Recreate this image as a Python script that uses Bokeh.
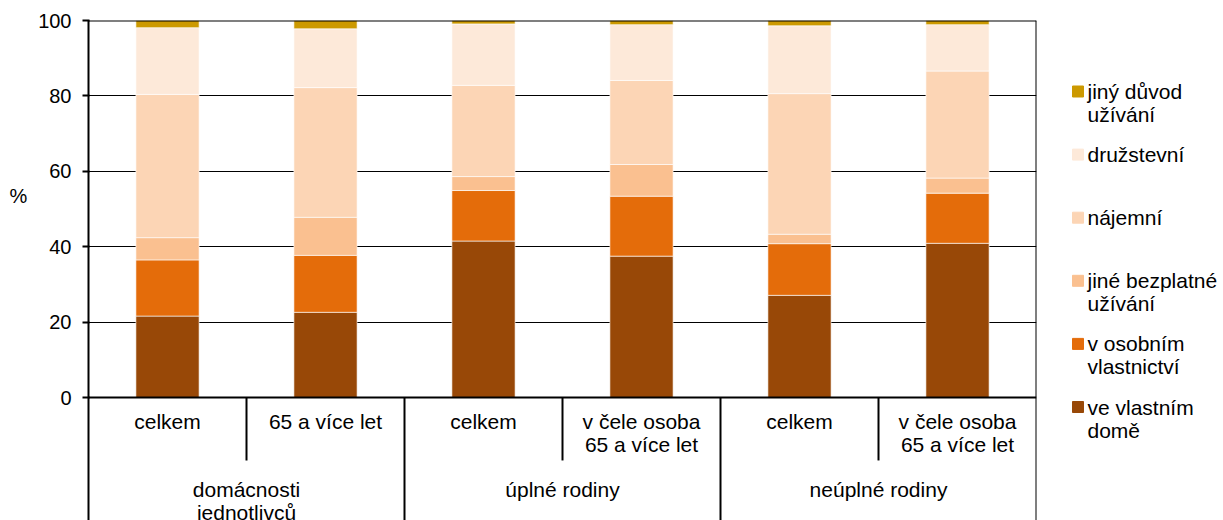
from bokeh.plotting import figure
from bokeh.models import Range1d, FixedTicker, Span, ColumnDataSource
from bokeh.layouts import row
from bokeh.embed import file_html
from bokeh.resources import INLINE
from bokeh.core.properties import value

# ---------------- data ----------------
sub_labels = ["celkem", "65 a více let", "celkem", "v čele osoba\n65 a více let",
              "celkem", "v čele osoba\n65 a více let"]
group_labels = ["domácnosti\njednotlivců", "úplné rodiny", "neúplné rodiny"]

series_keys = ["vlastni_dum", "osobni", "jine_bezplatne", "najemni", "druzstevni", "jiny_duvod"]
series_names = ["ve vlastním\ndomě", "v osobním\nvlastnictví", "jiné bezplatné\nužívání",
                "nájemní", "družstevní", "jiný důvod\nužívání"]
vlastni_dum = [21.6, 22.6, 41.5, 37.5, 27.1, 40.9]
osobni = [14.9, 15.1, 13.4, 15.9, 13.7, 13.3]
jine_bezplatne = [5.9, 10.1, 3.7, 8.4, 2.5, 4.0]
najemni = [38.0, 34.4, 24.2, 22.3, 37.3, 28.4]
druzstevni = [17.7, 15.6, 16.3, 14.8, 18.0, 12.3]
jiny_duvod = [1.9, 2.2, 0.9, 1.1, 1.4, 1.1]
colors = ["#984807", "#E46C0A", "#FAC090", "#FCD5B5", "#FDE9D9", "#CC9900"]
y_ticks = [0, 20, 40, 60, 80, 100]
y_unit = "%"

# ---------------- styling / layout constants ----------------
FONT = value("Liberation Sans")
FS = "21px"
TICK_FS = "20px"
PX_PER_UNIT = 3.77
FRAME_TOP = 20
H = 520
FRAME_H = H - FRAME_TOP
Y_MIN = 100 - FRAME_H / PX_PER_UNIT
LINE_STEP = 23 / PX_PER_UNIT
SUB_Y0 = -6.4
GROUP_Y0 = -24.5
SHORT_DIV = -16.7

n = len(sub_labels)
xs = [i + 0.5 for i in range(n)]
src = ColumnDataSource(dict(x=xs, vlastni_dum=vlastni_dum, osobni=osobni,
                            jine_bezplatne=jine_bezplatne, najemni=najemni,
                            druzstevni=druzstevni, jiny_duvod=jiny_duvod))

# ---------------- "%" panel (frames are aligned in the row: top at FRAME_TOP) ----------------
pf = figure(width=30, height=H, x_range=Range1d(0, 30), y_range=Range1d(H, FRAME_TOP),
            x_axis_location=None, y_axis_location=None, output_backend="svg",
            toolbar_location=None, min_border=0, min_border_top=FRAME_TOP, title=None)
pf.outline_line_color = None
pf.grid.visible = False
pf.text(x=[18], y=[195], text=[y_unit], text_font=FONT, text_font_size=TICK_FS,
        text_align="center", text_baseline="middle", text_color="black")

# ---------------- main chart ----------------
p = figure(width=1018, height=H, x_range=Range1d(0, n), y_range=Range1d(Y_MIN, 100),
           x_axis_location=None, output_backend="svg", toolbar_location=None, title=None,
           min_border_left=58, min_border_right=12, min_border_top=FRAME_TOP, min_border_bottom=0)
p.outline_line_color = None
p.xgrid.visible = False
p.ygrid.ticker = FixedTicker(ticks=y_ticks[1:-1])
p.ygrid.grid_line_color = "black"
p.ygrid.grid_line_width = 1

ax = p.yaxis[0]
ax.ticker = FixedTicker(ticks=y_ticks)
ax.minor_tick_line_color = None
ax.major_tick_out = 6
ax.major_tick_in = 1
ax.major_tick_line_width = 2
ax.axis_line_width = 2
ax.axis_line_color = "black"
ax.major_tick_line_color = "black"
ax.major_label_text_font = "Liberation Sans"
ax.major_label_text_font_size = TICK_FS
ax.major_label_text_color = "black"
ax.major_label_standoff = 11

p.vbar_stack(series_keys, x="x", width=0.4, color=colors, source=src,
             line_color="white", line_alpha=0.6, line_width=1)

for loc, dim in [(0, "width"), (100, "width"), (n, "height")]:
    p.add_layout(Span(location=loc, dimension=dim, line_color="black", line_width=2))

# category table below the axis
div_x = [i for i in range(1, n)]
div_y1 = [Y_MIN if i % 2 == 0 else SHORT_DIV for i in div_x]
p.segment(x0=div_x, y0=[0] * len(div_x), x1=div_x, y1=div_y1, line_color="black", line_width=2)

tx, ty, tt = [], [], []
for i, lab in enumerate(sub_labels):
    for j, line in enumerate(lab.split("\n")):
        tx.append(xs[i]); ty.append(SUB_Y0 - j * LINE_STEP); tt.append(line)
for g, lab in enumerate(group_labels):
    for j, line in enumerate(lab.split("\n")):
        tx.append(2 * g + 1); ty.append(GROUP_Y0 - j * LINE_STEP); tt.append(line)
p.text(x=tx, y=ty, text=tt, text_font=FONT, text_font_size=FS, text_align="center",
       text_baseline="middle", text_color="black")

# ---------------- legend panel ----------------
lg = figure(width=175, height=H, x_range=Range1d(0, 175), y_range=Range1d(H, FRAME_TOP),
            x_axis_location=None, y_axis_location=None, output_backend="svg",
            toolbar_location=None, min_border=0, min_border_top=FRAME_TOP, title=None)
lg.outline_line_color = None
lg.grid.visible = False
LEG_Y0 = 91
LEG_STEP = 63.1
leg_names = series_names[::-1]
leg_colors = colors[::-1]
ly = [LEG_Y0 + k * LEG_STEP for k in range(len(leg_names))]
lg.rect(x=[29.5] * len(ly), y=ly, width=11, height=11, color=leg_colors)
lx, lyy, lt = [], [], []
for k, lab in enumerate(leg_names):
    for j, line in enumerate(lab.split("\n")):
        lx.append(39); lyy.append(ly[k] + j * 23); lt.append(line)
lg.text(x=lx, y=lyy, text=lt, text_font=FONT, text_font_size=FS, text_align="left",
        text_baseline="middle", text_color="black")

layout = row(pf, p, lg)
open("out.html", "w").write(file_html(layout, INLINE))
